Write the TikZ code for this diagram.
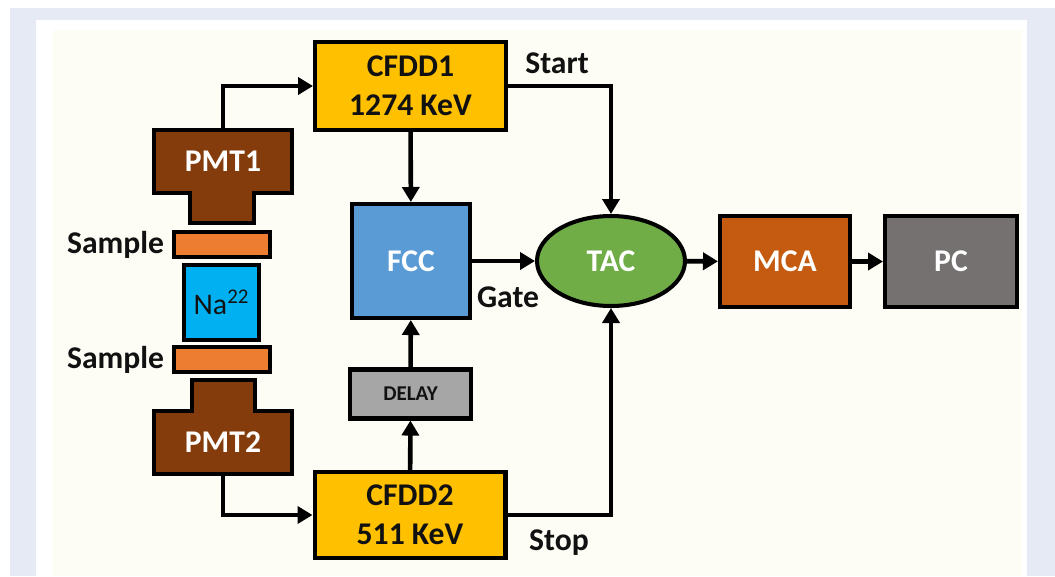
\documentclass[tikz,border=0pt]{standalone}
\usepackage{fontspec}
\setmainfont{Carlito}
\usepackage{xcolor}
\usepackage{tikz}
\usetikzlibrary{arrows.meta,positioning,shapes.geometric}
\definecolor{pageblue}{HTML}{E6EAF5}
\definecolor{panelcream}{HTML}{FDFDF6}
\definecolor{cfdyellow}{HTML}{FFC000}
\definecolor{fccblue}{HTML}{5B9BD5}
\definecolor{tacgreen}{HTML}{70AD47}
\definecolor{mcaorange}{HTML}{C55A11}
\definecolor{pcgray}{HTML}{767171}
\definecolor{delaygray}{HTML}{A6A6A6}
\definecolor{pmtbrown}{HTML}{843C0C}
\definecolor{sampleorange}{HTML}{ED7D31}
\definecolor{nacyan}{HTML}{00B0F0}
\definecolor{inkblack}{HTML}{111111}

\begin{document}
\begin{tikzpicture}[x=0.02cm,y=-0.02cm,font=\fontsize{18}{22}\selectfont\bfseries,
  blk/.style={draw=black,line width=2.3pt,align=center,inner sep=0pt},
  cfdd/.style={blk,fill=cfdyellow,text=inkblack,minimum width=3.82cm,minimum height=1.76cm},
  unit/.style={blk,text=white,minimum height=1.82cm},
  pmttxt/.style={text=white,inner sep=0pt,outer sep=0pt,minimum width=2.76cm,minimum height=1.26cm},
  pmtbody/.style={draw=black,line width=2.3pt,fill=pmtbrown},
  samplebar/.style={blk,fill=sampleorange,minimum width=1.92cm,minimum height=0.5cm},
  lbl/.style={text=inkblack},
  conn/.style={line width=2.6pt,-{Triangle[length=3mm,width=3.4mm]}}]
  % page and panel
  \fill[white] (0,0) rectangle (1055,576);
  \fill[pageblue] (10,8) rectangle (1055,576);
  \fill[white] (36,20) rectangle (1027,576);
  \fill[panelcream] (53,30) rectangle (1022,576);
  \useasboundingbox (0,0) rectangle (1055,576);

  % detector stack
  \draw[pmtbody] (154,130) -- (292,130) -- (292,193) -- (254,193) -- (254,223) -- (190,223) -- (190,193) -- (154,193) -- cycle;
  \draw[pmtbody] (192,380) -- (255,380) -- (255,411) -- (292,411) -- (292,474) -- (154,474) -- (154,411) -- (192,411) -- cycle;
  \node[pmttxt] (pmt1) at (223,161.5) {PMT1};
  \node[pmttxt] (pmt2) at (223,442.5) {PMT2};
  \node[samplebar] (sample1) at (222,244.5) {};
  \node[samplebar] (sample2) at (222,359.5) {};
  \node[blk,fill=nacyan,minimum width=1.5cm,minimum height=1.5cm,font=\fontsize{17}{20}\selectfont\mdseries,text=inkblack] (na) at (221.5,302.5) {Na\textsuperscript{22}};
  \node[lbl,left=1pt of sample1] (smp1lbl) {Sample};
  \node[lbl,left=1pt of sample2] (smp2lbl) {Sample};

  % electronics
  \node[cfdd] (cfdd1) at (410.5,86) {CFDD1\\1274 KeV};
  \node[cfdd,minimum height=1.72cm] (cfdd2) at (410,515) {CFDD2\\511 KeV};
  \node[blk,fill=fccblue,text=white,minimum width=2.36cm,minimum height=2.28cm] (fcc) at (411,261) {FCC};
  \node[blk,fill=delaygray,text=inkblack,minimum width=2.42cm,minimum height=0.98cm,font=\fontsize{12}{14}\selectfont\bfseries] (delay) at (410.5,394) {DELAY};
  \node[blk,ellipse,fill=tacgreen,text=white,minimum width=2.96cm,minimum height=1.8cm] (tac) at (611,261) {TAC};
  \node[unit,fill=mcaorange,minimum width=2.6cm] (mca) at (785,261.5) {MCA};
  \node[unit,fill=pcgray,minimum width=2.64cm] (pc) at (951,261.5) {PC};

  \node[lbl] (startlbl) at (557,63) {Start};
  \node[lbl] (gatelbl) at (508,297) {Gate};
  \node[lbl] (stoplbl) at (559,543) {Stop};

  \foreach \a/\b in {cfdd1/fcc,fcc/tac,tac/mca,mca/pc,cfdd2/delay,delay/fcc} \draw[conn] (\a) -- (\b);
  \draw[conn] (pmt1.north) |- (cfdd1.west);
  \draw[conn] (pmt2.south) |- (cfdd2.west);
  \draw[conn] (cfdd1.east) -| (tac.north);
  \draw[conn] (cfdd2.east) -| (tac.south);
\end{tikzpicture}
\end{document}
